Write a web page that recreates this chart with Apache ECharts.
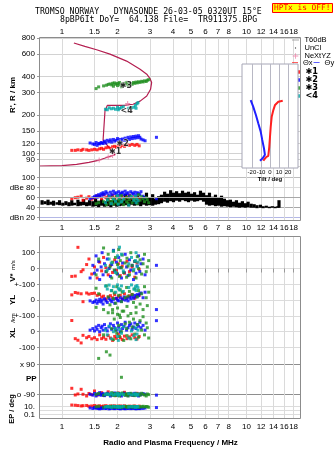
<!DOCTYPE html>
<html>
<head>
<meta charset="utf-8">
<script src="https://cdn.jsdelivr.net/npm/echarts@6/dist/echarts.min.js"></script>
<style>
html,body{margin:0;padding:0;background:#fff}
#c{width:335px;height:451px}
</style>
</head>
<body>
<div id="c"></div>
<script>
// ---- axis ticks ----
const freqTicks = [1, 1.5, 2, 3, 4, 5, 6, 7, 8, 10, 12, 14, 16, 18];
const heightTicks = [80, 90, 100, 120, 150, 200, 300, 400, 600, 800];
const dbTicks = [20, 40, 60, 80, 100];
const tiltTicks = [-20, -10, 0, 10, 20];

// ---- true-height profile (plasma frequency vs real height) ----
const profileFreq = [0.76, 1.0, 1.2, 1.4, 1.55, 1.7, 1.85, 1.94, 1.67, 1.71, 1.76, 2.17, 2.43, 2.65, 2.88, 3.02, 3.06, 3.0, 2.88, 2.65, 2.24, 1.82, 1.54, 1.33, 1.16];
const profileHeight = [80, 80.5, 82.5, 85.5, 88, 92, 96, 98, 127, 215, 238, 238, 243, 257, 282, 318, 359, 386, 417, 456, 528, 599, 648, 689, 731];

// ---- NeXtYZ inversion points ----
const nextFreq = [1.59, 1.78, 1.88, 2.27];
const nextHeight = [89, 94, 96.6, 246];

// ---- echo class centroids ----
const markFreq = [1.94, 2.13, 2.22, 2.24];
const markHeight = [103, 120, 337, 215];
const markText = ['✱1', '✱2', '✱3', '<4'];

// ---- class 1 echoes (red) ----
const redFreq = [1.13, 1.18, 1.22, 1.27, 1.30, 1.36, 1.40, 1.45, 1.50, 1.55, 1.60, 1.64, 1.68, 1.73, 1.78, 1.83, 1.88, 1.93, 1.97, 2.02, 2.07, 2.12, 2.18, 2.25, 2.32, 2.40, 2.48, 2.55, 2.62];
const redHeight = [106, 106, 107, 106, 108, 107, 106, 107, 108, 107, 109, 110, 108, 111, 112, 110, 113, 114, 112, 115, 113, 116, 114, 117, 116, 118, 116, 118, 115];
const redAmp = [58, 60, 61, 63, 55, 59, 62, 57, 60, 64, 62, 58, 66, 60, 63, 61, 65, 59, 62, 64, 60, 63, 58, 61, 65, 59, 62, 60, 57];
const redVstar = [-50, -48, 134, -20, -8, 25, 60, -35, 10, -60, 40, -15, 70, 5, -40, 20, -25, 55, -10, 30, -45, 15, -30, 45, -20, 10, -55, 35, -5];
const redYL = [33, 48, 44, 40, -10, 45, 38, 42, 44, 30, 35, 19, 25, 6, 20, 28, 15, 35, 10, 22, 30, 8, 40, 18, 27, 36, 12, 25, 30];
const redXL = [71, -44, -54, -71, -23, -38, -30, -45, -38, -50, -20, -44, -35, -48, -25, -40, -55, -30, -42, -15, -38, -50, -28, -44, -33, -20, -38, -46, -30];
const redPP = [-54, -94, -88, -60, -90, -100, -85, -92, -70, -95, -88, -80, -96, -90, -75, -92, -86, -98, -90, -82, -94, -88, -78, -92, -86, -96, -90, -84, -92];
const redEP = [20, 18, 15, 12, 14, 16, 10, 12, 15, 11, 13, 9, 12, 14, 10, 12, 11, 13, 9, 11, 12, 10, 13, 9, 11, 10, 12, 9, 11];

// ---- class 2 echoes (blue) ----
const blueFreq = [1.42, 1.47, 1.50, 1.53, 1.55, 1.58, 1.60, 1.63, 1.65, 1.67, 1.70, 1.73, 1.76, 1.80, 1.83, 1.86, 1.90, 1.93, 1.97, 2.00, 2.03, 2.07, 2.10, 2.13, 2.17, 2.20, 2.24, 2.28, 2.32, 2.36, 2.40, 2.44, 2.48, 2.52, 2.56, 2.60, 2.64, 2.68, 2.75, 2.82, 3.25];
const blueHeight = [121, 119, 118, 122, 116, 120, 119, 122, 121, 120, 125, 121, 127, 124, 128, 123, 129, 125, 127, 131, 126, 129, 124, 130, 127, 132, 128, 134, 129, 135, 131, 136, 132, 137, 133, 138, 134, 130, 128, 126, 134];
const blueAmp = [58, 60, 62, 64, 61, 66, 63, 68, 65, 70, 67, 72, 69, 64, 71, 66, 73, 68, 70, 65, 72, 67, 69, 71, 66, 73, 68, 70, 64, 72, 69, 67, 71, 65, 70, 68, 66, 72, 63, 60, 58];
const blueVstar = [-60, 20, -30, 80, -10, 45, -70, 10, 100, -40, 30, -20, 60, 0, -50, 25, 115, -15, 40, -35, 70, 5, -60, 35, -25, 90, 10, -45, 55, -10, 20, -70, 45, -30, 15, 80, -20, 30, 60, -40, 20];
const blueYL = [-5, -15, -10, 0, -20, -8, 5, -12, 0, -25, 8, -5, -15, 10, 0, -10, 5, -20, 12, 0, -5, 15, -8, 5, 20, 0, 10, -5, 18, 8, 25, 12, 30, 20, 35, 28, 40, 45, 15, 50, -60];
const blueXL = [10, 20, 5, 30, 15, 40, 0, 25, 35, 10, 45, 20, 5, 30, 50, 15, 40, 25, 10, 55, 30, 0, 45, 20, 35, 60, 10, 25, 40, 50, 15, 30, 55, 20, 45, 35, 60, 25, 40, 10, 70];
const bluePP = [-90, -95, -85, -100, -88, -92, -80, -96, -90, -86, -98, -92, -84, -90, -100, -88, -94, -82, -90, -96, -86, -92, -100, -88, -84, -94, -90, -98, -86, -92, -88, -96, -84, -90, -94, -100, -88, -92, -86, -90, -95];
const blueEP = [4, 3, 5, 3.5, 4, 3, 2.5, 4, 3, 5, 3.5, 3, 4, 2.5, 3, 4.5, 3, 2.8, 3.5, 4, 3, 2.5, 3.2, 4, 3, 2.6, 3.4, 3, 4, 2.8, 3.2, 3.8, 3, 2.5, 3.4, 3, 2.8, 3.6, 3.2, 4, 5];

// ---- class 3 echoes (green) ----
const greenFreq = [1.53, 1.58, 1.68, 1.74, 1.78, 1.82, 1.86, 1.88, 1.90, 1.92, 1.95, 1.98, 2.00, 2.03, 2.05, 2.07, 2.10, 2.12, 2.16, 2.20, 2.24, 2.25, 2.28, 2.32, 2.36, 2.40, 2.44, 2.48, 2.52, 2.56, 2.60, 2.65, 2.70, 2.75, 2.80, 2.86, 2.90, 2.95];
const greenHeight = [322, 332, 338, 342, 347, 350, 344, 354, 336, 357, 348, 354, 340, 352, 359, 345, 333, 350, 343, 354, 350, 360, 340, 357, 352, 348, 359, 354, 362, 357, 364, 360, 367, 363, 370, 366, 374, 378];
const greenAmp = [48, 50, 52, 46, 55, 49, 53, 60, 47, 57, 51, 62, 48, 55, 58, 50, 64, 53, 46, 59, 52, 61, 49, 56, 63, 50, 57, 54, 60, 48, 66, 55, 62, 58, 52, 60, 56, 50];
const greenVstar = [-40, 60, 130, -20, 90, 10, -60, 40, 110, -10, 70, -30, 25, 120, -50, 50, 5, 85, -25, 35, -55, 65, 15, -40, 100, 20, -15, 45, -60, 75, 0, 55, -35, 30, 90, -20, 10, 50];
const greenYL = [75, 40, -60, 90, 20, -30, 60, -80, 10, 45, -20, 85, -50, 30, -95, 65, -10, 50, -70, 15, 80, -40, 25, 55, -85, 35, -15, 70, -45, 20, 60, -25, 40, -60, 85, 15, -35, 50];
const greenXL = [154, -169, -20, -127, 120, -148, 20, 140, -50, 80, 10, -10, 110, 40, -30, 90, 0, 130, -55, 50, 20, -25, 100, 60, -45, 30, 80, -15, 120, 45, -35, 70, 10, 95, -20, 55, 25, -40];
const greenPP = [-90, -85, -95, -88, -90, -92, -80, -96, -90, -86, -98, -92, -84, -90, -100, -88, 12, -82, -90, -96, -86, -92, -100, -88, -84, -94, -90, -98, -86, -92, -88, -96, -84, -90, -94, -100, -88, -92];
const greenEP = [8, 10, 6, 9, 7, 8, 10, 6, 9, 7, 8, 6, 10, 7, 9, 8, 6, 7, 9, 8, 10, 6, 7, 9, 8, 6, 10, 7, 8, 9, 6, 7, 8, 10, 7, 9, 8, 6];

// ---- class 4 echoes (cyan) ----
const cyanFreq = [1.72, 1.76, 1.80, 1.85, 1.90, 1.95, 2.00, 2.02, 2.05, 2.10, 2.15, 2.30, 2.38, 2.45, 2.50, 2.52, 2.55, 2.58];
const cyanHeight = [222, 220, 228, 224, 226, 222, 230, 220, 225, 229, 232, 226, 228, 230, 238, 226, 245, 250];
const cyanAmp = [50, 56, 62, 48, 58, 53, 64, 47, 60, 52, 57, 45, 61, 55, 63, 50, 58, 54];
const cyanVstar = [20, -10, 60, 35, 110, -25, 80, 5, 135, 90, -15, 30, 70, -5, 50, 100, 15, 40];
const cyanYL = [89, 70, 95, 60, 85, 50, 96, 75, 65, 90, 55, 80, 96, 70, 85, 60, 92, 78];
const cyanXL = [10, -20, 35, -45, 0, 20, -30, -55, 15, -10, 30, -40, 5, -25, 25, -50, -15, 10];
const cyanPP = [-90, -88, -92, -86, -94, -90, -84, -96, -90, -88, -92, -86, -94, -90, -88, -92, -96, -90];
const cyanEP = [7, 9, 8, 6, 10, 8, 7, 9, 6, 8, 10, 7, 9, 8, 6, 8, 7, 9];

// ---- receiver noise (dB), min/max per frequency bin ----
const noiseFreq = [0.78, 0.81, 0.84, 0.87, 0.90, 0.94, 0.97, 1.01, 1.05, 1.09, 1.13, 1.17, 1.22, 1.26, 1.31, 1.36, 1.41, 1.47, 1.52, 1.58, 1.64, 1.70, 1.77, 1.84, 1.91, 1.98, 2.05, 2.13, 2.21, 2.30, 2.38, 2.47, 2.57, 2.67, 2.77, 2.87, 2.98, 3.10, 3.21, 3.34, 3.46, 3.60, 3.73, 3.88, 4.02, 4.18, 4.34, 4.50, 4.67, 4.85, 5.04, 5.23, 5.43, 5.63, 5.85, 6.07, 6.30, 6.54, 6.79, 7.05, 7.32, 7.59, 7.88, 8.18, 8.49, 8.82, 9.15, 9.50, 9.86, 10.2, 10.6, 11.0, 11.4, 11.9, 12.3, 12.8, 13.3, 13.8, 14.3, 14.8, 15.0];
const noiseLo = [46, 47, 45, 46, 44, 46, 45, 44, 45, 43, 44, 45, 43, 44, 45, 43, 44, 42, 43, 41, 44, 42, 43, 41, 44, 42, 43, 44, 45, 43, 46, 44, 45, 43, 46, 44, 45, 44, 46, 47, 49, 52, 50, 53, 51, 54, 52, 55, 53, 51, 54, 52, 53, 55, 52, 46, 44, 45, 43, 44, 42, 43, 42, 41, 42, 41, 40, 41, 40, 41, 40, 40, 39, 40, 39, 40, 39, 40, 39, 40, 40];
const noiseHi = [55, 53, 56, 52, 54, 51, 55, 50, 53, 51, 55, 50, 56, 52, 57, 51, 55, 53, 58, 54, 57, 53, 59, 55, 58, 56, 60, 57, 68, 58, 62, 57, 64, 59, 63, 70, 60, 67, 58, 63, 66, 72, 68, 75, 70, 73, 69, 74, 70, 72, 68, 71, 66, 74, 70, 65, 70, 62, 66, 61, 64, 58, 55, 56, 52, 55, 50, 53, 49, 52, 48, 47, 45, 46, 43, 44, 42, 43, 42, 43, 55];

// ---- tilt profiles (inset) ----
const thetaXTilt = [14.1, 9.2, 5.6, 3.7, 1.9, 0.8, 0, -0.8, -1.9, -4.4, -6.3, -7.4];
const thetaXHeight = [294, 291, 282, 267, 248, 219, 190, 161, 135, 131, 125, 121];
const thetaYTilt = [-21.4, -18.6, -15.6, -13, -10.3, -8.6, -6.7, -5.6, -8.1, -11.1];
const thetaYHeight = [296, 277, 253, 229, 205, 181, 157, 138, 128, 121];

const FONT = 'Liberation Sans';
const MONO = 'DejaVu Sans Mono';
const GRID_LINE = '#dadada';
const FRAME = '#8c8c8c';

const zip = (a, b) => a.map((v, i) => [v, b[i]]);

const classes = [
  { name: '✱1', color: '#ff0000', freq: redFreq, height: redHeight, amp: redAmp, vstar: redVstar, yl: redYL, xl: redXL, pp: redPP, ep: redEP },
  { name: '✱2', color: '#0000ff', freq: blueFreq, height: blueHeight, amp: blueAmp, vstar: blueVstar, yl: blueYL, xl: blueXL, pp: bluePP, ep: blueEP },
  { name: '✱3', color: '#1f8f1f', freq: greenFreq, height: greenHeight, amp: greenAmp, vstar: greenVstar, yl: greenYL, xl: greenXL, pp: greenPP, ep: greenEP },
  { name: '<4', color: '#00a6a6', freq: cyanFreq, height: cyanHeight, amp: cyanAmp, vstar: cyanVstar, yl: cyanYL, xl: cyanXL, pp: cyanPP, ep: cyanEP }
];

const labelText = { fontFamily: FONT, fontSize: 8, color: '#000' };

function freqAxis(gridIndex, position, showLabel, margin, extra) {
  return Object.assign({
    type: 'log', gridIndex, position, min: 0.76, max: 19.74,
    axisLine: { show: false },
    axisTick: { show: false, customValues: freqTicks },
    axisLabel: Object.assign({ show: showLabel, customValues: freqTicks, margin,
      formatter: v => String(+(+v).toFixed(1)) }, labelText),
    splitLine: { show: true, lineStyle: { color: GRID_LINE, width: 1 } }
  }, extra || {});
}

function bandAxis(gridIndex, min, max, values, labels, lineColor) {
  return {
    type: 'value', gridIndex, position: 'left', offset: 0, min, max,
    axisLine: { show: false },
    axisTick: { show: true, length: 3, customValues: values, lineStyle: { color: '#999' } },
    axisLabel: Object.assign({ customValues: values, margin: 5,
      formatter: v => labels[values.findIndex(t => Math.abs(t - v) < 1e-6)] || '' }, labelText),
    splitLine: { show: true, lineStyle: { color: lineColor, width: 1 } }
  };
}

const xAxis = [
  freqAxis(0, 'top', true, 2),
  freqAxis(1, 'bottom', true, 3),
  freqAxis(2, 'top', false, 2, { axisTick: { show: true, inside: true, length: 4, customValues: freqTicks, lineStyle: { color: '#999' } } }),
  freqAxis(3, 'bottom', true, 4, {
    name: 'Radio and Plasma Frequency / MHz', nameLocation: 'middle', nameGap: 20,
    nameTextStyle: { fontFamily: FONT, fontSize: 8, fontWeight: 'bold', color: '#000' }
  }),
  {
    type: 'value', gridIndex: 4, min: -31, max: 31, z: 6,
    axisLine: { show: false },
    axisTick: { show: false, customValues: tiltTicks },
    axisLabel: { customValues: tiltTicks, margin: 1, fontFamily: FONT, fontSize: 6, color: '#000' },
    splitLine: { show: true, lineStyle: { color: '#b8b8c4' } },
    name: 'Tilt / deg', nameLocation: 'middle', nameGap: 8,
    nameTextStyle: { fontFamily: FONT, fontSize: 6, fontWeight: 'bold', color: '#000' }
  }
];

const yAxis = [
  {
    type: 'log', gridIndex: 0, min: 80, max: 800,
    axisLine: { show: false },
    axisTick: { show: true, length: 3, customValues: heightTicks, lineStyle: { color: '#999' } },
    axisLabel: Object.assign({ customValues: heightTicks, margin: 5, formatter: v => String(Math.round(v)) }, labelText),
    splitLine: { show: true, lineStyle: { color: '#d2d2d2' } }
  },
  {
    type: 'value', gridIndex: 1, min: 13.4, max: 123.4,
    axisLine: { show: false },
    axisTick: { show: true, length: 3, customValues: dbTicks, lineStyle: { color: '#999' } },
    axisLabel: Object.assign({ customValues: dbTicks, margin: 5,
      formatter: v => ({ 20: 'dBn 20', 80: 'dBe 80' })[Math.round(v)] || String(Math.round(v)) }, labelText),
    splitLine: { show: true, lineStyle: { color: ['#b4b8e6', '#a8a8a8', '#c4c4c4', '#dcdcdc', '#bdbdbd'] } }
  },
  bandAxis(2, -832.4, 199.4, [0, 100], ['0', '100'], '#dcdcdc'),
  bandAxis(2, -632.4, 399.4, [0, 100], ['0', '+-100'], '#dcdcdc'),
  bandAxis(2, -432.3, 599.5, [-100, 0, 100], ['-100', '0', '+-100'], '#dcdcdc'),
  bandAxis(2, -124.2, 853.8, [-90, 90], ['o -90', 'x 90'], '#8e8e8e'),
  {
    type: 'log', gridIndex: 3, min: 0.00946, max: 316.2,
    axisLine: { show: false },
    axisTick: { show: false, customValues: [0.1, 1, 10] },
    axisLabel: Object.assign({ customValues: [0.1, 10], margin: 5, formatter: v => (v > 1 ? '10.' : '0.1') }, labelText),
    splitLine: { show: true, lineStyle: { color: '#dcdcdc' } }
  },
  { type: 'value', gridIndex: 4, min: 100, max: 400, show: false, splitLine: { show: false } }
];

const dot = (extra) => Object.assign({ type: 'scatter', symbol: 'rect', symbolSize: 3, silent: true, z: 3 }, extra);

const series = [];

// profile
series.push({
  name: 'profile', type: 'line', xAxisIndex: 0, yAxisIndex: 0,
  data: zip(profileFreq, profileHeight), showSymbol: false, symbol: 'none', silent: true,
  lineStyle: { color: '#b41e50', width: 1.2 }, z: 2
});

classes.forEach(c => {
  const item = { color: c.color };
  series.push(dot({ name: c.name, xAxisIndex: 0, yAxisIndex: 0, itemStyle: item, data: zip(c.freq, c.height) }));
  series.push(dot({ name: c.name, xAxisIndex: 1, yAxisIndex: 1, itemStyle: item, data: zip(c.freq, c.amp), z: 4 }));
  series.push(dot({ name: c.name, xAxisIndex: 2, yAxisIndex: 2, itemStyle: item, data: zip(c.freq, c.vstar) }));
  series.push(dot({ name: c.name, xAxisIndex: 2, yAxisIndex: 3, itemStyle: item, data: zip(c.freq, c.yl) }));
  series.push(dot({ name: c.name, xAxisIndex: 2, yAxisIndex: 4, itemStyle: item, data: zip(c.freq, c.xl) }));
  series.push(dot({ name: c.name, xAxisIndex: 2, yAxisIndex: 5, itemStyle: item, data: zip(c.freq, c.pp) }));
  series.push(dot({ name: c.name, xAxisIndex: 3, yAxisIndex: 6, itemStyle: item, data: zip(c.freq, c.ep) }));
});

// inversion points
series.push({
  name: 'NeXtYZ', type: 'scatter', xAxisIndex: 0, yAxisIndex: 0, silent: true, z: 5,
  symbol: 'path://M4,0h2v4h4v2h-4v4h-2v-4h-4v-2h4z', symbolSize: 5,
  itemStyle: { color: '#ec79a3' }, data: zip(nextFreq, nextHeight)
});

// class centroid markers
series.push({
  name: 'classMarks', type: 'scatter', xAxisIndex: 0, yAxisIndex: 0, silent: true, z: 6,
  symbolSize: 0, data: zip(markFreq, markHeight),
  label: { show: true, position: 'inside', formatter: p => markText[p.dataIndex],
    fontFamily: 'DejaVu Sans', fontSize: 8, fontWeight: 'bold', color: '#000',
    textBorderColor: '#fff', textBorderWidth: 1 }
});

// receiver noise band
series.push({
  name: 'noise', type: 'custom', xAxisIndex: 1, yAxisIndex: 1, silent: true, z: 2,
  data: noiseFreq.map((f, i) => [f, noiseLo[i], noiseHi[i]]),
  encode: { x: 0, y: [1, 2] },
  renderItem: (params, api) => {
    const top = api.coord([api.value(0), api.value(2)]);
    const bot = api.coord([api.value(0), api.value(1)]);
    return { type: 'rect', shape: { x: top[0] - 1.6, y: top[1], width: 3.2, height: bot[1] - top[1] }, style: { fill: '#000' } };
  }
});

// 60 dB threshold
series.push({
  name: 'T60dB', type: 'line', xAxisIndex: 1, yAxisIndex: 1, data: [], silent: true,
  itemStyle: { color: '#9a9a9a' },
  markLine: { silent: true, symbol: 'none', label: { show: false }, lineStyle: { color: '#a8a8a8', type: 'solid', width: 1 }, data: [{ yAxis: 60 }] }
});

// unclassified echoes (none in this sounding)
series.push({ name: 'UnCl', type: 'scatter', xAxisIndex: 0, yAxisIndex: 0, data: [], itemStyle: { color: '#000' } });

// tilt profiles
series.push({
  name: 'Θx', type: 'line', xAxisIndex: 4, yAxisIndex: 7, showSymbol: false, symbol: 'none', silent: true, z: 7,
  itemStyle: { color: '#ff2020' }, lineStyle: { color: '#ff2020', width: 2 }, data: zip(thetaXTilt, thetaXHeight)
});
series.push({
  name: 'Θy', type: 'line', xAxisIndex: 4, yAxisIndex: 7, showSymbol: false, symbol: 'none', silent: true, z: 7,
  itemStyle: { color: '#2020ff' }, lineStyle: { color: '#2020ff', width: 2 }, data: zip(thetaYTilt, thetaYHeight)
});

const ICON_LINE = 'path://M0,0M10,10M0,4.4h10v1.2h-10z';
const ICON_DOT = 'path://M0,0M10,10M4.2,4.2h1.6v1.6h-1.6z';
const ICON_PLUS = 'path://M0,0M10,10M4.4,1h1.2v8h-1.2zM1,4.4h8v1.2h-8z';
const legendText = { fontFamily: FONT, fontSize: 7.5, color: '#000', padding: 0 };

const option = {
  animation: false,
  backgroundColor: '#fff',
  title: [
    { text: 'TROMSO NORWAY   DYNASONDE 26-03-05 0320UT 15°E', left: 35, top: 8, padding: 0,
      textStyle: { fontFamily: MONO, fontSize: 8.2, fontWeight: 'normal', color: '#000' } },
    { text: '8pBP6It DoY=  64.138 File=  TR911375.BPG', left: 60, top: 16, padding: 0,
      textStyle: { fontFamily: MONO, fontSize: 8.2, fontWeight: 'normal', color: '#000' } },
    { text: 'HPTx is OFF!', left: 272, top: 3, padding: [1, 2, 1, 2],
      backgroundColor: '#ffff00', borderColor: '#ff0000', borderWidth: 1,
      textStyle: { fontFamily: MONO, fontSize: 7.8, fontWeight: 'normal', color: '#ff0000' } }
  ],
  legend: [
    { orient: 'vertical', left: 292, top: 36, padding: 0, itemGap: 0, itemWidth: 8, itemHeight: 7,
      selectedMode: false, textStyle: legendText,
      data: [{ name: 'T60dB', icon: ICON_LINE }, { name: 'UnCl', icon: ICON_DOT }, { name: 'NeXtYZ', icon: ICON_PLUS }] },
    { orient: 'horizontal', left: 292, top: 58.5, padding: 0, itemGap: 1, itemWidth: 6, itemHeight: 7,
      selectedMode: false, textStyle: legendText,
      data: [{ name: 'Θx', icon: ICON_LINE }, { name: 'Θy', icon: ICON_LINE }] },
    { orient: 'vertical', left: 297, top: 68, padding: 0, itemGap: 0, itemWidth: 3.5, itemHeight: 3.5,
      selectedMode: false, textStyle: { fontFamily: 'DejaVu Sans', fontSize: 8.2, fontWeight: 'bold', color: '#000', padding: 0 },
      data: classes.map(c => ({ name: c.name, icon: 'rect' })) }
  ],
  grid: [
    { left: 40, top: 38, width: 261, height: 128 },
    { left: 40, top: 166, width: 261, height: 55 },
    { left: 40, top: 237, width: 261, height: 163 },
    { left: 40, top: 400, width: 261, height: 19 },
    { left: 242, top: 64, width: 56, height: 104, show: true, z: 5, backgroundColor: '#ffffff', borderColor: '#a6a6b6', borderWidth: 1 }
  ],
  xAxis, yAxis, series,
  graphic: [
    { type: 'rect', z: 20, silent: true, shape: { x: 39.5, y: 37.5, width: 261, height: 183 }, style: { fill: 'none', stroke: FRAME, lineWidth: 1 } },
    { type: 'rect', z: 20, silent: true, shape: { x: 39.5, y: 236.5, width: 261, height: 182 }, style: { fill: 'none', stroke: FRAME, lineWidth: 1 } },
    { type: 'text', z: 20, x: 13, y: 95, rotation: Math.PI / 2, silent: true,
      style: { text: "R', R / km", font: 'bold 8px "Liberation Sans"', fill: '#000', align: 'center', verticalAlign: 'middle' } },
    { type: 'text', z: 20, x: 13, y: 271, rotation: Math.PI / 2, silent: true,
      style: { text: '{a|V*} {b|m/s}', fill: '#000', align: 'center', verticalAlign: 'middle',
        rich: { a: { font: 'bold 8px "Liberation Sans"' }, b: { font: '6px "Liberation Sans"' } } } },
    { type: 'text', z: 20, x: 13, y: 300, rotation: Math.PI / 2, silent: true,
      style: { text: 'YL', font: 'bold 8px "Liberation Sans"', fill: '#000', align: 'center', verticalAlign: 'middle' } },
    { type: 'text', z: 20, x: 13, y: 318, rotation: Math.PI / 2, silent: true,
      style: { text: '/km', font: '6px "Liberation Sans"', fill: '#000', align: 'center', verticalAlign: 'middle' } },
    { type: 'text', z: 20, x: 13, y: 333, rotation: Math.PI / 2, silent: true,
      style: { text: 'XL', font: 'bold 8px "Liberation Sans"', fill: '#000', align: 'center', verticalAlign: 'middle' } },
    { type: 'text', z: 20, x: 12, y: 409, rotation: Math.PI / 2, silent: true,
      style: { text: 'EP / deg', font: 'bold 7.5px "Liberation Sans"', fill: '#000', align: 'center', verticalAlign: 'middle' } },
    { type: 'text', z: 20, x: 26, y: 379, silent: true,
      style: { text: 'PP', font: 'bold 8px "Liberation Sans"', fill: '#000', align: 'left', verticalAlign: 'middle' } }
  ]
};

const chart = echarts.init(document.getElementById('c'), null, { renderer: 'canvas', width: 335, height: 451 });
chart.setOption(option);
</script>
</body>
</html>
